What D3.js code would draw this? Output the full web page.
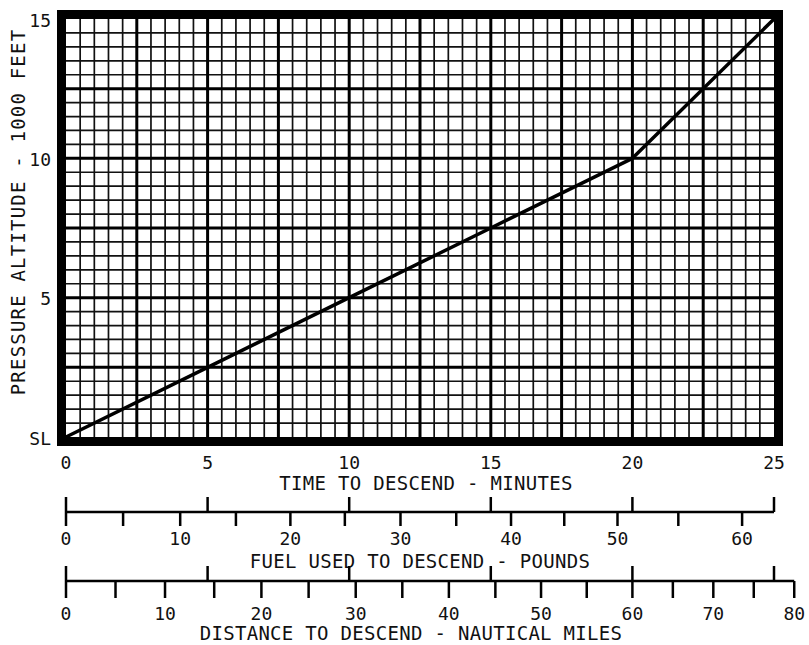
<!DOCTYPE html>
<html>
<head>
<meta charset="utf-8">
<script src="https://cdn.jsdelivr.net/npm/d3@7"></script>
<style>
  html, body { margin: 0; padding: 0; background: #fff; }
  svg { display: block; }
  text { font-family: "DejaVu Sans Mono", "Liberation Mono", monospace; fill: #111; }
</style>
</head>
<body>
<svg id="chart" width="809" height="645"></svg>
<script>
// ---- data ----
const timeTicks = [0, 5, 10, 15, 20, 25];                 // minutes
const altTicks = [0, 5, 10, 15];                          // 1000 ft
const altTickLabels = ["SL", "5", "10", "15"];
const descentTime = [0, 5, 10, 15, 20, 25];               // minutes
const descentAlt = [0, 2.5, 5, 7.5, 10, 15];              // 1000 ft
const markTimes = [0, 5, 10, 15, 20, 25];                 // times marked on auxiliary scales
const fuelAtTime = [0, 12.4, 25.4, 38.1, 51.4, 62.5];     // pounds
const distAtTime = [0, 14.3, 29.3, 44.5, 60, 77.5];       // nautical miles
const fuelTicks = [0, 5, 10, 15, 20, 25, 30, 35, 40, 45, 50, 55, 60];
const fuelTickLabels = [0, 10, 20, 30, 40, 50, 60];
const distTicks = [0, 5, 10, 15, 20, 25, 30, 35, 40, 45, 50, 55, 60, 65, 70, 75, 80];
const distTickLabels = [0, 10, 20, 30, 40, 50, 60, 70, 80];

const svg = d3.select("#chart");

const x = d3.scaleLinear().domain([0, 25]).range([66, 774]);
const y = d3.scaleLinear().domain([0, 15]).range([437, 19]);

// ---- grid ----
const g = svg.append("g");
const isMajor = v => Math.abs(v / 2.5 - Math.round(v / 2.5)) < 1e-6;
const minorX = d3.range(0.5, 25, 0.5).filter(v => !isMajor(v));
const majorX = d3.range(2.5, 25, 2.5);
const minorY = d3.range(0.5, 15, 0.5).filter(v => !isMajor(v));
const majorY = d3.range(2.5, 15, 2.5);

g.selectAll(".vminor").data(minorX).join("line")
  .attr("x1", d => x(d)).attr("x2", d => x(d))
  .attr("y1", y(0)).attr("y2", y(15))
  .attr("stroke", "#111").attr("stroke-width", 1.7);
g.selectAll(".hminor").data(minorY).join("line")
  .attr("y1", d => y(d)).attr("y2", d => y(d))
  .attr("x1", x(0)).attr("x2", x(25))
  .attr("stroke", "#111").attr("stroke-width", 1.7);
g.selectAll(".vmajor").data(majorX).join("line")
  .attr("x1", d => x(d)).attr("x2", d => x(d))
  .attr("y1", y(0)).attr("y2", y(15))
  .attr("stroke", "#000").attr("stroke-width", 3);
g.selectAll(".hmajor").data(majorY).join("line")
  .attr("y1", d => y(d)).attr("y2", d => y(d))
  .attr("x1", x(0)).attr("x2", x(25))
  .attr("stroke", "#000").attr("stroke-width", 3);

// ---- frame ----
const fw = 9;
svg.append("rect")
  .attr("x", x(0) - fw / 2).attr("y", y(15) - fw / 2)
  .attr("width", x(25) - x(0) + fw).attr("height", y(0) - y(15) + fw)
  .attr("fill", "none").attr("stroke", "#000").attr("stroke-width", fw);

// ---- descent line ----
const line = d3.line().x((d, i) => x(descentTime[i])).y(d => y(d));
svg.append("path").datum(descentAlt)
  .attr("d", line)
  .attr("fill", "none").attr("stroke", "#000").attr("stroke-width", 3.5)
  .attr("stroke-linejoin", "round");

// ---- y tick labels ----
svg.selectAll(".ylab").data(altTicks).join("text")
  .attr("x", 51).attr("y", d => y(d) + 1)
  .attr("text-anchor", "end").attr("dominant-baseline", "central")
  .attr("font-size", 18)
  .text((d, i) => altTickLabels[i]);

svg.append("text")
  .attr("transform", `translate(25, ${212}) rotate(-90)`)
  .attr("text-anchor", "middle")
  .attr("font-size", 19).attr("letter-spacing", 1.2)
  .text("PRESSURE ALTITUDE - 1000 FEET");

// ---- x tick labels ----
svg.selectAll(".xlab").data(timeTicks).join("text")
  .attr("x", d => x(d)).attr("y", 469)
  .attr("text-anchor", "middle").attr("font-size", 18)
  .text(d => d);

svg.append("text")
  .attr("x", 426).attr("y", 490).attr("text-anchor", "middle")
  .attr("font-size", 19).attr("letter-spacing", 0.3)
  .text("TIME TO DESCEND - MINUTES");

// ---- auxiliary scales ----
function auxScale(values, ticks, labels, endValue, lineY, upLen, downLen, labelY, title, titleX, titleY) {
  const s = d3.scaleLinear().domain(values).range(markTimes.map(t => x(t)));
  const ga = svg.append("g").attr("stroke", "#000").attr("stroke-width", 2.5);
  ga.append("line")
    .attr("x1", s(0)).attr("x2", s(endValue))
    .attr("y1", lineY).attr("y2", lineY);
  ga.selectAll(".down").data(ticks).join("line")
    .attr("x1", d => s(d)).attr("x2", d => s(d))
    .attr("y1", lineY).attr("y2", lineY + downLen);
  ga.selectAll(".up").data(values).join("line")
    .attr("x1", d => s(d)).attr("x2", d => s(d))
    .attr("y1", lineY - upLen).attr("y2", lineY);
  svg.selectAll(null).data(labels).join("text")
    .attr("x", d => s(d)).attr("y", labelY)
    .attr("text-anchor", "middle").attr("font-size", 18)
    .text(d => d);
  svg.append("text")
    .attr("x", titleX).attr("y", titleY).attr("text-anchor", "middle")
    .attr("font-size", 19).attr("letter-spacing", 0.3)
    .text(title);
}

auxScale(fuelAtTime, fuelTicks, fuelTickLabels, fuelAtTime[fuelAtTime.length - 1],
  512, 15, 14, 545, "FUEL USED TO DESCEND - POUNDS", 420, 568);
auxScale(distAtTime, distTicks, distTickLabels, 80,
  581, 15, 17, 620, "DISTANCE TO DESCEND - NAUTICAL MILES", 411, 640);
</script>
</body>
</html>
